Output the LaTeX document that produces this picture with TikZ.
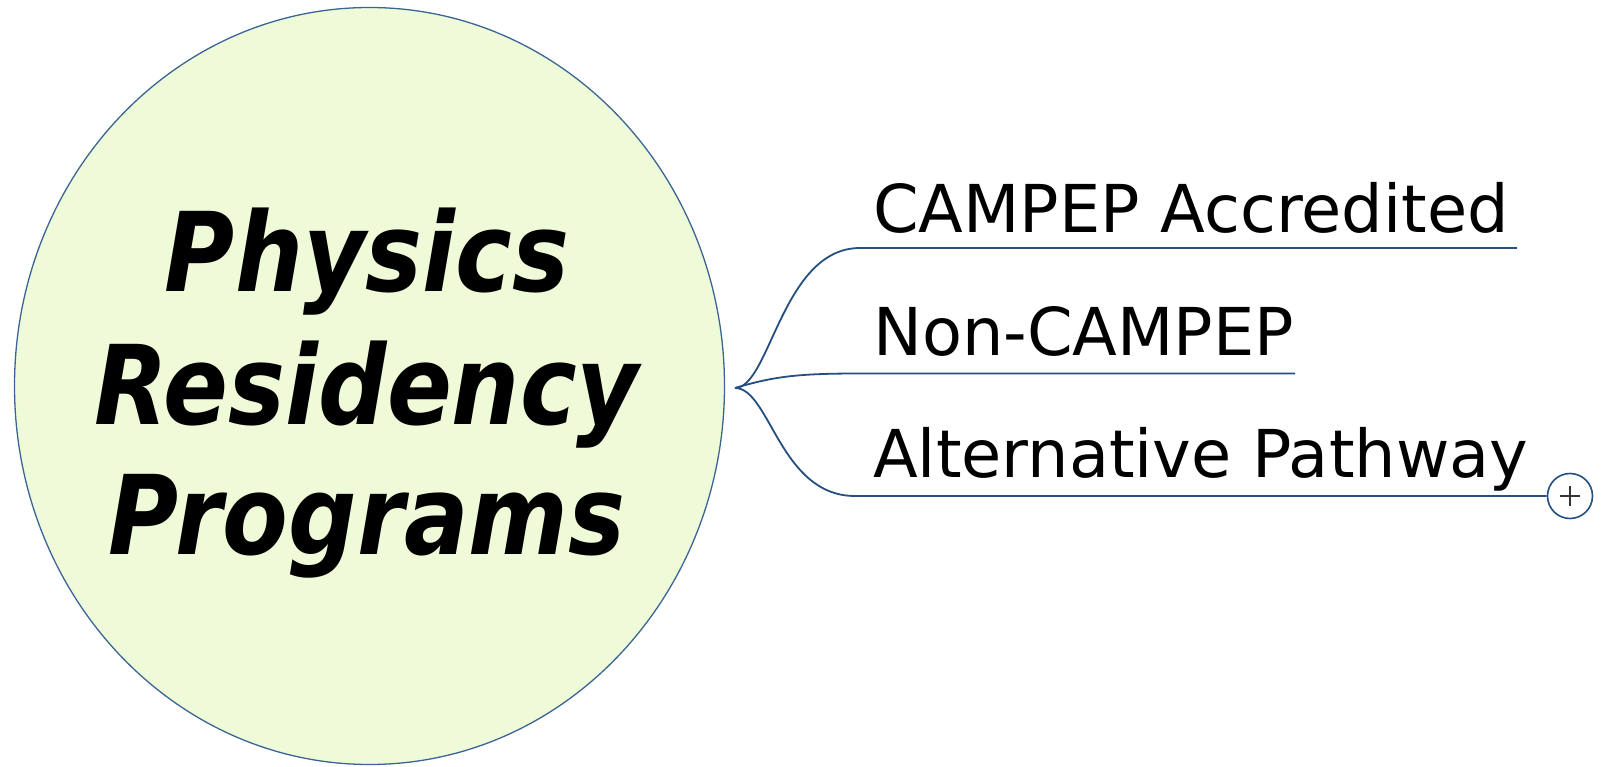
\documentclass[tikz,border=0pt]{standalone}
\usepackage{fontspec}
\setmainfont{DejaVu Sans}
\newfontfamily\hubfont[FakeStretch=0.87]{DejaVu Sans}
\newfontfamily\leaffont[FakeStretch=0.99]{DejaVu Sans}
\usetikzlibrary{shapes.geometric}
\definecolor{hubfill}{HTML}{EEFAD8}
\definecolor{hubline}{HTML}{3A6594}
\definecolor{linkblue}{HTML}{244F80}
\tikzset{
  hubshape/.style={ellipse, draw=hubline, line width=1.3pt, fill=hubfill,
    minimum width=710pt, minimum height=757pt, inner sep=0pt},
  hubtext/.style={anchor=base, inner sep=0pt,
    font=\hubfont\bfseries\itshape\fontsize{110}{130}\selectfont},
  leaftext/.style={anchor=base west, inner sep=0pt,
    font=\leaffont\fontsize{66}{78}\selectfont},
  link/.style={draw=linkblue, line width=1.8pt},
  expander/.style={circle, draw=linkblue, line width=1.6pt, fill=white,
    minimum size=45pt, inner sep=0pt}
}
\begin{document}
\begin{tikzpicture}[x=1pt,y=-1pt]
\useasboundingbox (0,0) rectangle (1609,767);
\node[hubshape] (hub) at (369.5,386) {};
\node[hubtext] (l1) at (367,292) {Physics};
\node[hubtext] (l2) at (367,424) {Residency};
\node[hubtext] (l3) at (367,554) {Programs};
\coordinate (J) at (735,388);
\node[leaftext] (t1) at (873,233) {CAMPEP Accredited};
\node[leaftext] (t2) at (873,355) {Non-CAMPEP};
\node[leaftext] (t3) at (873,477) {Alternative Pathway};
\coordinate (u1) at (1517,248);
\coordinate (u2) at (1295,373.5);
\node[expander] (plus) at (1570,496) {};
\draw[link] (J) .. controls (770,388) and (782,248) .. (860,248) -- (u1);
\draw[link] (J) .. controls (775,376) and (800,373.5) .. (860,373.5) -- (u2);
\draw[link] (J) .. controls (770,388) and (780,496) .. (855,496) -- (plus.west);
\draw[line width=1.6pt, black!80] ([xshift=-10pt]plus.center) -- ([xshift=10pt]plus.center)
  ([yshift=-10pt]plus.center) -- ([yshift=10pt]plus.center);
\end{tikzpicture}
\end{document}
